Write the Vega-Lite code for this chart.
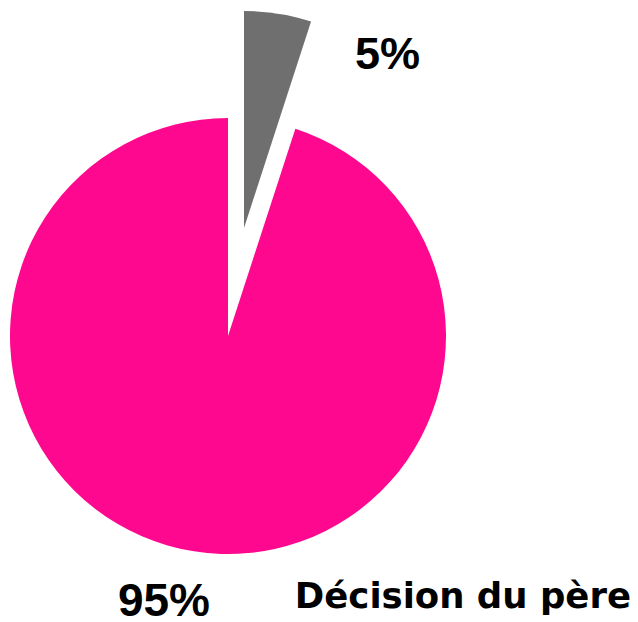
{
  "$schema": "https://vega.github.io/schema/vega-lite/v6.json",
  "autosize": {"type": "none"},
  "padding": {"left": 0, "top": 60, "right": 182, "bottom": 10},
  "width": 456,
  "height": 552,
  "background": "white",
  "config": {"view": {"stroke": null}},
  "title": {
    "text": "Décision du père",
    "orient": "bottom",
    "anchor": "end",
    "frame": "group",
    "align": "right",
    "baseline": "alphabetic",
    "dx": 175,
    "offset": -32,
    "font": "DejaVu Sans",
    "fontSize": 35.5,
    "fontWeight": "bold",
    "color": "black"
  },
  "data": {
    "values": [
      {"cat": "Autre", "value": 5, "ord": 1, "label": "5%"},
      {"cat": "Décision du père", "value": 95, "ord": 2, "label": "95%"}
    ]
  },
  "encoding": {
    "theta": {"field": "value", "type": "quantitative", "stack": true},
    "order": {"field": "ord", "type": "quantitative"}
  },
  "layer": [
    {
      "mark": {"type": "arc", "outerRadius": 218},
      "encoding": {
        "color": {"condition": {"test": "datum.cat === 'Autre'", "value": "rgba(0,0,0,0)"}, "value": "#FF0890"}
      }
    },
    {
      "mark": {"type": "arc", "outerRadius": 217, "xOffset": 16, "yOffset": -108},
      "encoding": {
        "color": {"condition": {"test": "datum.cat === 'Autre'", "value": "#6F6F6F"}, "value": "rgba(0,0,0,0)"}
      }
    },
    {
      "mark": {"type": "text", "radius": 284, "dx": 115, "font": "Liberation Sans", "fontSize": 45, "fontWeight": "bold", "color": "black", "align": "center", "baseline": "middle"},
      "encoding": {
        "text": {"condition": {"test": "datum.cat === 'Autre'", "field": "label"}, "value": ""}
      }
    },
    {
      "mark": {"type": "text", "radius": 269, "dx": -22, "font": "Liberation Sans", "fontSize": 46, "fontWeight": "bold", "color": "black", "align": "center", "baseline": "middle"},
      "encoding": {
        "text": {"condition": {"test": "datum.cat !== 'Autre'", "field": "label"}, "value": ""}
      }
    }
  ]
}
